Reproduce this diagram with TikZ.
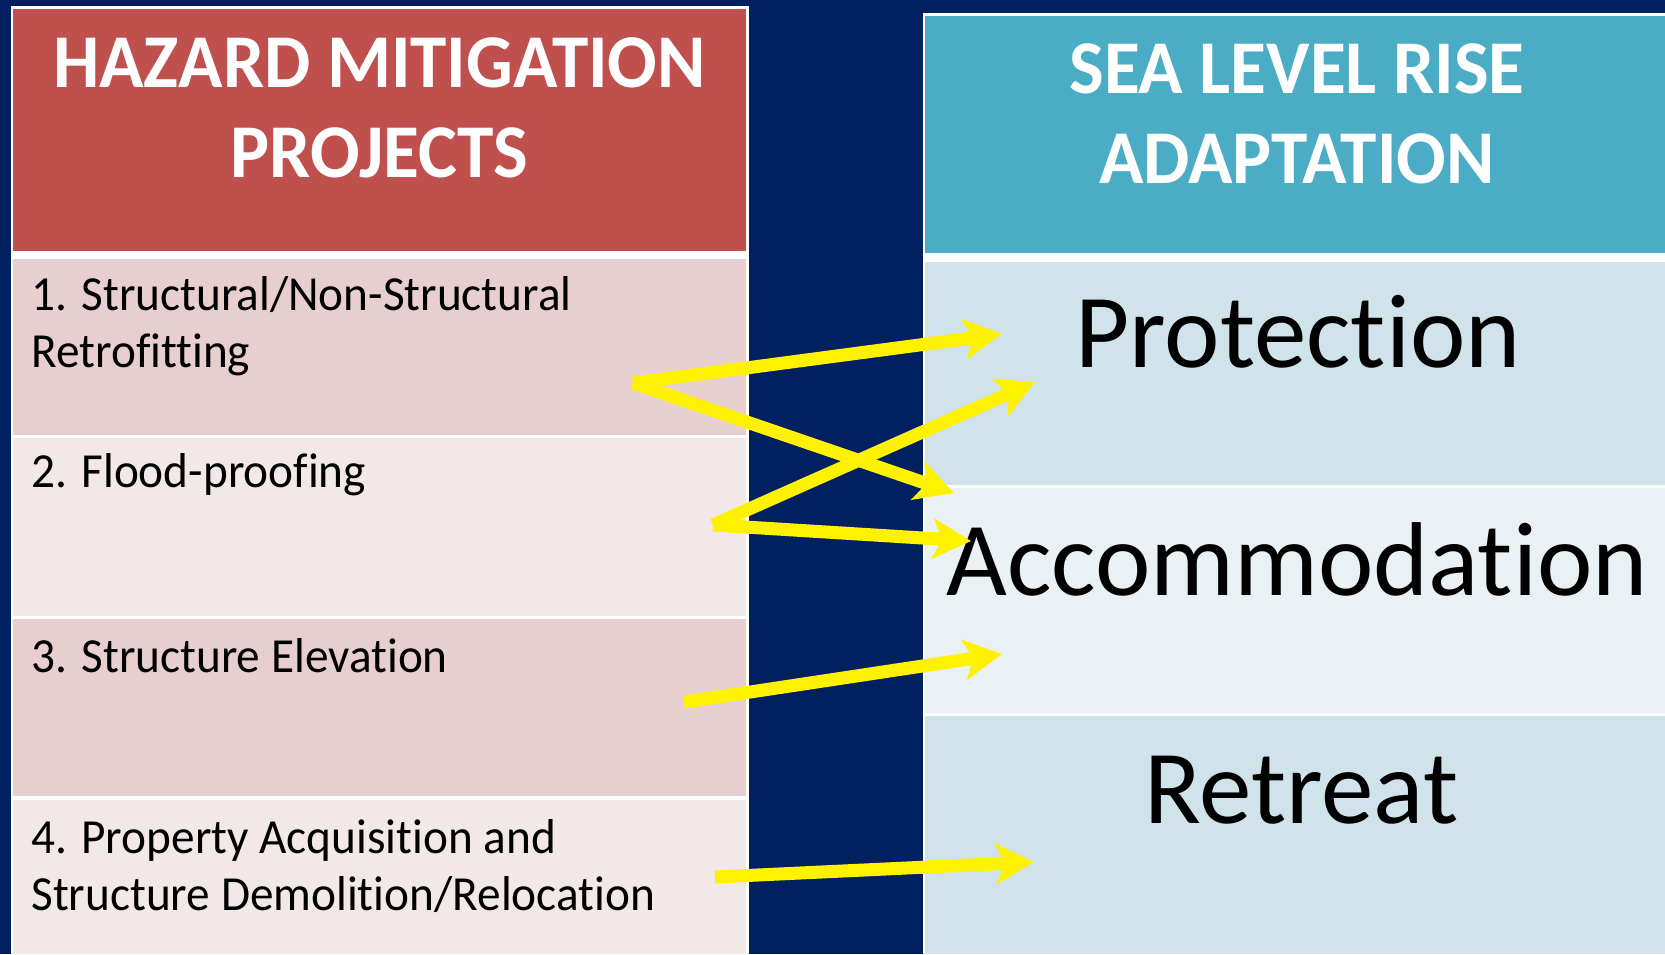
\documentclass[tikz,border=0pt]{standalone}
\usepackage{fontspec}
\setmainfont{Carlito}[FakeStretch=0.965, Ligatures=NoCommon]
\newfontfamily\bigfont{Carlito}[Ligatures=NoCommon]
\usepackage{xcolor}
\usepackage{tikz}
\usetikzlibrary{arrows.meta}

\definecolor{navy}{HTML}{002060}
\definecolor{hazardred}{HTML}{C0504D}
\definecolor{hazardpink}{HTML}{E7CFD0}
\definecolor{hazardlight}{HTML}{F2E8E8}
\definecolor{seateal}{HTML}{4BACC6}
\definecolor{seablue}{HTML}{D0E3EA}
\definecolor{sealight}{HTML}{E9F1F4}

\tikzset{
  headtext/.style={anchor=base, align=center, text=white, inner sep=0pt,
    font=\fontsize{38}{45}\selectfont\bfseries},
  itemtext/.style={anchor=base west, align=left, inner sep=0pt,
    font=\fontsize{24.5}{28.5}\selectfont},
  bigtext/.style={anchor=base, inner sep=0pt, font=\bigfont\fontsize{52.5}{60}\selectfont},
  link/.style={-{Stealth[length=19pt, width=20pt, inset=4.5pt]}, draw=yellow, line width=6.5pt}
}

\begin{document}
\begin{tikzpicture}[x=0.5pt, y=-0.5pt]
                % Background
                \fill[navy] (0,0) rectangle (1665,954);
                \useasboundingbox (0,0) rectangle (1665,954);
                % Hazard mitigation table
                \fill[white] (11,6) rectangle (749,954);
                \fill[hazardred] (13,9) rectangle (746,251);
                \fill[hazardpink] (13,259) rectangle (746,435);
                \fill[hazardlight] (13,438) rectangle (746,616);
                \fill[hazardpink] (13,619) rectangle (746,796);
                \fill[hazardlight] (13,800) rectangle (746,954);
                % Sea level rise table
                \fill[white] (923,13) rectangle (1665,954);
                \fill[seateal] (925,16) rectangle (1665,253);
                \fill[seablue] (925,262) rectangle (1665,485);
                \fill[sealight] (925,488) rectangle (1665,713);
                \fill[seablue] (925,716) rectangle (1665,954);
                % Headers (base is on the last line)
                \node[headtext] (hazard) at (379.5,177) {HAZARD MITIGATION\\PROJECTS};
                \node[headtext] (slr) at (1297,183) {SEA LEVEL RISE\\ADAPTATION};
                % Mitigation projects
                \node[itemtext] (retrofit) at (31,367) {1. Structural/Non-Structural\\Retrofitting};
                \node[itemtext] (flood) at (31,487) {2. Flood-proofing};
                \node[itemtext] (elevation) at (31,672) {3. Structure Elevation};
                \node[itemtext] (acquisition) at (31,910) {4. Property Acquisition and\\Structure Demolition/Relocation};
                % Adaptation strategies
                \node[bigtext] (protection) at (1298,367) {Protection};
                \node[bigtext] (accommodation) at (1297,595) {Accommodation};
                \node[bigtext] (retreat) at (1301,823) {Retreat};
                % Arrow ends
                \coordinate (r1) at (633,383);
                \coordinate (r2) at (713,525);
                \coordinate (r3) at (684,702);
                \coordinate (r4) at (715,877);
                \coordinate (protA) at (1002,334);
                \coordinate (protB) at (1035,382);
                \coordinate (accA) at (954,493);
                \coordinate (accB) at (971,541);
                \coordinate (accC) at (1002,654);
                \coordinate (retA) at (1034,862);
                % Links
                \draw[link] (r1) -- (protA);
                \draw[link] (r1) -- (accA);
                \draw[link] (r2) -- (protB);
                \draw[link] (r2) -- (accB);
                \draw[link] (r3) -- (accC);
                \draw[link] (r4) -- (retA);
            \end{tikzpicture}
\end{document}
